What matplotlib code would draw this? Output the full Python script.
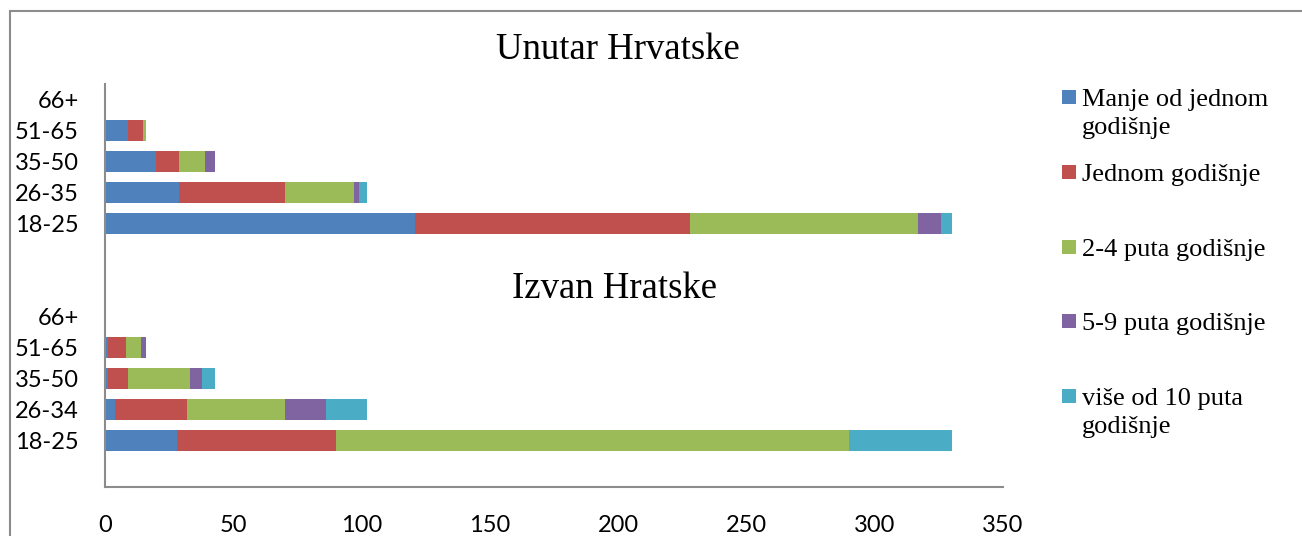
import matplotlib.pyplot as plt
from matplotlib.patches import Rectangle
import numpy as np

# Podaci - Unutar Hrvatske (odozdo prema gore)
ages_in = ['18-25', '26-35', '35-50', '51-65', '66+']
manje_in = [121, 29, 20, 9, 0]
jednom_in = [107, 41, 9, 6, 0]
dva_cetiri_in = [89, 27, 10, 1, 0]
pet_devet_in = [9, 2, 4, 0, 0]
vise_deset_in = [4, 3, 0, 0, 0]

# Podaci - Izvan Hrvatske
ages_out = ['18-25', '26-34', '35-50', '51-65', '66+']
manje_out = [28, 4, 1, 1, 0]
jednom_out = [62, 28, 8, 7, 0]
dva_cetiri_out = [200, 38, 24, 6, 0]
pet_devet_out = [0, 16, 5, 2, 0]
vise_deset_out = [40, 16, 5, 0, 0]

labels = ['Manje od jednom\ngodišnje', 'Jednom godišnje', '2-4 puta godišnje',
          '5-9 puta godišnje', 'više od 10 puta\ngodišnje']
colors = ['#4F81BD', '#C0504D', '#9BBB59', '#8064A2', '#4BACC6']

series_in = [manje_in, jednom_in, dva_cetiri_in, pet_devet_in, vise_deset_in]
series_out = [manje_out, jednom_out, dva_cetiri_out, pet_devet_out, vise_deset_out]

W, H = 1302, 536
fig = plt.figure(figsize=(W / 100, H / 100), dpi=100)
ax = fig.add_axes([105 / W, 1 - 487 / H, (1003 - 105) / W, (487 - 84) / H])

# Pozicije redova: donja grupa 0-4, gornja grupa 7-11
y_out = np.arange(5)
y_in = np.arange(5) + 7

for ys, series in [(y_in, series_in), (y_out, series_out)]:
    left = np.zeros(5)
    for vals, c in zip(series, colors):
        ax.barh(ys, vals, left=left, height=0.65, color=c, linewidth=0)
        left += np.array(vals)

ax.set_xlim(0, 350)
ax.set_ylim(-1.5, 11.5)
ax.set_xticks(np.arange(0, 351, 50))
ax.set_yticks(np.concatenate([y_out, y_in]))
ax.set_yticklabels(ages_out + ages_in)

for s in ['top', 'right']:
    ax.spines[s].set_visible(False)
for s in ['left', 'bottom']:
    ax.spines[s].set_color('#8c8c8c')
    ax.spines[s].set_linewidth(1.5)

ax.tick_params(axis='y', length=0, pad=19, labelsize=17)
ax.tick_params(axis='x', length=0, pad=20, labelsize=17)
for t in ax.get_xticklabels() + ax.get_yticklabels():
    t.set_fontfamily('Lato')

# Naslovi
fig.text(618 / W, 1 - 50 / H, 'Unutar Hrvatske', ha='center', va='center',
         fontsize=26.5, family='Liberation Serif')
fig.text(614 / W, 1 - 289 / H, 'Izvan Hratske', ha='center', va='center',
         fontsize=26.5, family='Liberation Serif')

# Legenda
marker_y = [97, 172, 247, 321, 396]
for lab, c, my in zip(labels, colors, marker_y):
    fig.patches.append(Rectangle((1062 / W, 1 - (my + 7) / H), 14 / W, 14 / H,
                                 transform=fig.transFigure, facecolor=c,
                                 edgecolor='none'))
    fig.text(1082 / W, 1 - (my - 8) / H, lab, ha='left', va='top',
             fontsize=19, family='Liberation Serif', linespacing=1.35)

# Okvir grafikona
fig.patches.append(Rectangle((10 / W, -0.1), 1.2, 1.1 - 11 / H,
                             transform=fig.transFigure, fill=False,
                             edgecolor='#8c8c8c', linewidth=1.5))

fig.savefig('out.png', dpi=100)
